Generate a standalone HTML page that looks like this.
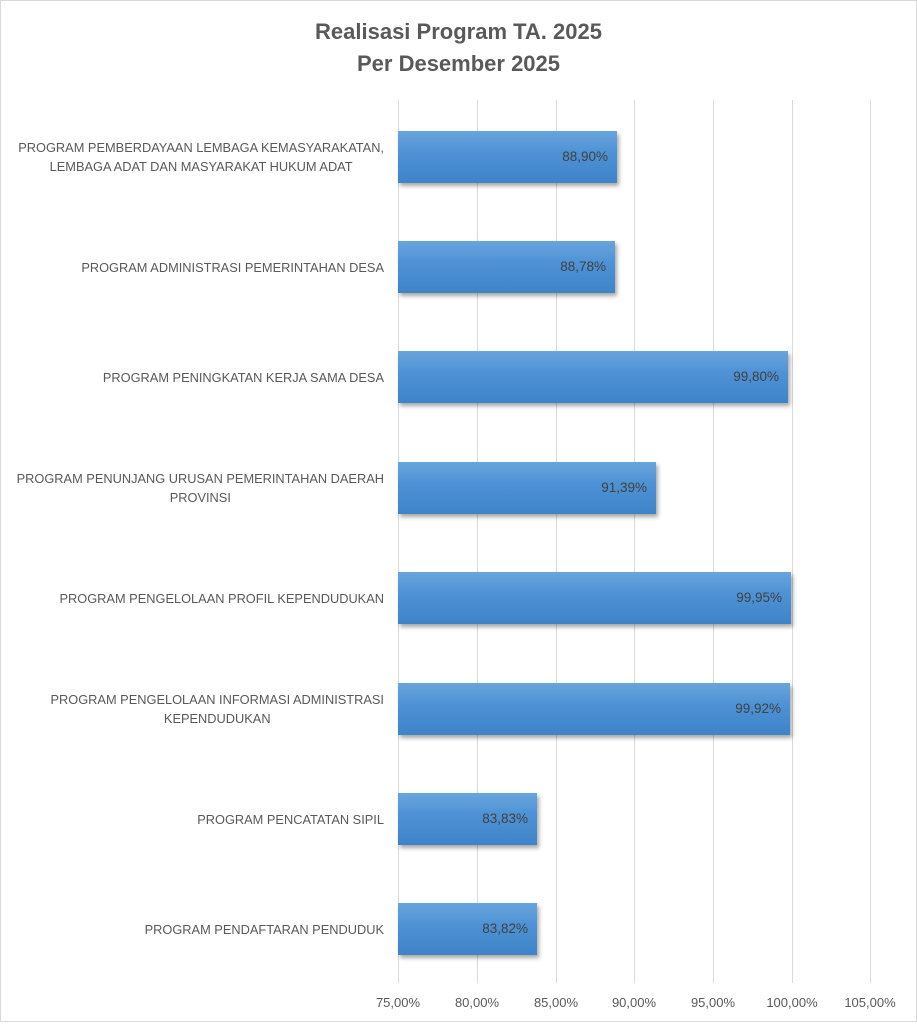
<!DOCTYPE html>
<html><head><meta charset="utf-8"><style>
body{margin:0;background:#fff;}
#c{position:relative;width:917px;height:1024px;overflow:hidden;font-family:"Liberation Sans",sans-serif;color:#595959;}
.frame{position:absolute;left:0;top:0;width:915px;height:1020px;border:1px solid #d9d9d9;}
.t{position:absolute;left:0;width:917px;text-align:center;font-weight:bold;font-size:22px;}
.g{position:absolute;top:100px;height:883px;width:1px;background:#d9d9d9;}
.x{position:absolute;top:995px;width:80px;margin-left:-40px;text-align:center;font-size:13px;}
.b{position:absolute;left:398px;height:52px;background:linear-gradient(#6aa5dc,#4f93d6 40%,#3f83c8);box-shadow:2px 3px 4px rgba(0,0,0,0.35);}
.v{position:absolute;right:9px;top:0;line-height:52px;font-size:13.5px;color:#404040;}
.l{position:absolute;right:533px;width:390px;text-align:right;font-size:12.8px;line-height:19px;}
.l span{display:inline-block;text-align:center;}
</style></head><body><div id="c">
<div class="frame"></div>
<div class="t" style="top:19px">Realisasi Program TA. 2025</div>
<div class="t" style="top:51px">Per Desember 2025</div>
<div class="g" style="left:398px"></div><div class="g" style="left:477px"></div><div class="g" style="left:556px"></div><div class="g" style="left:634px"></div><div class="g" style="left:713px"></div><div class="g" style="left:792px"></div><div class="g" style="left:870px"></div>
<div class="x" style="left:398px">75,00%</div><div class="x" style="left:477px">80,00%</div><div class="x" style="left:556px">85,00%</div><div class="x" style="left:634px">90,00%</div><div class="x" style="left:713px">95,00%</div><div class="x" style="left:792px">100,00%</div><div class="x" style="left:870px">105,00%</div>

<div class="b" style="top:131px;width:219px"><span class="v">88,90%</span></div>
<div class="b" style="top:241px;width:217px"><span class="v">88,78%</span></div>
<div class="b" style="top:351px;width:390px"><span class="v">99,80%</span></div>
<div class="b" style="top:462px;width:258px"><span class="v">91,39%</span></div>
<div class="b" style="top:572px;width:393px"><span class="v">99,95%</span></div>
<div class="b" style="top:683px;width:392px"><span class="v">99,92%</span></div>
<div class="b" style="top:793px;width:139px"><span class="v">83,83%</span></div>
<div class="b" style="top:903px;width:139px"><span class="v">83,82%</span></div>

<div class="l" style="top:138px"><span>PROGRAM PEMBERDAYAAN LEMBAGA KEMASYARAKATAN,<br>LEMBAGA ADAT DAN MASYARAKAT HUKUM ADAT</span></div>
<div class="l" style="top:258px"><span>PROGRAM ADMINISTRASI PEMERINTAHAN DESA</span></div>
<div class="l" style="top:368px"><span>PROGRAM PENINGKATAN KERJA SAMA DESA</span></div>
<div class="l" style="top:469px"><span>PROGRAM PENUNJANG URUSAN PEMERINTAHAN DAERAH<br>PROVINSI</span></div>
<div class="l" style="top:589px"><span>PROGRAM PENGELOLAAN PROFIL KEPENDUDUKAN</span></div>
<div class="l" style="top:690px"><span>PROGRAM PENGELOLAAN INFORMASI ADMINISTRASI<br>KEPENDUDUKAN</span></div>
<div class="l" style="top:810px"><span>PROGRAM PENCATATAN SIPIL</span></div>
<div class="l" style="top:920px"><span>PROGRAM PENDAFTARAN PENDUDUK</span></div>
</div></body></html>
